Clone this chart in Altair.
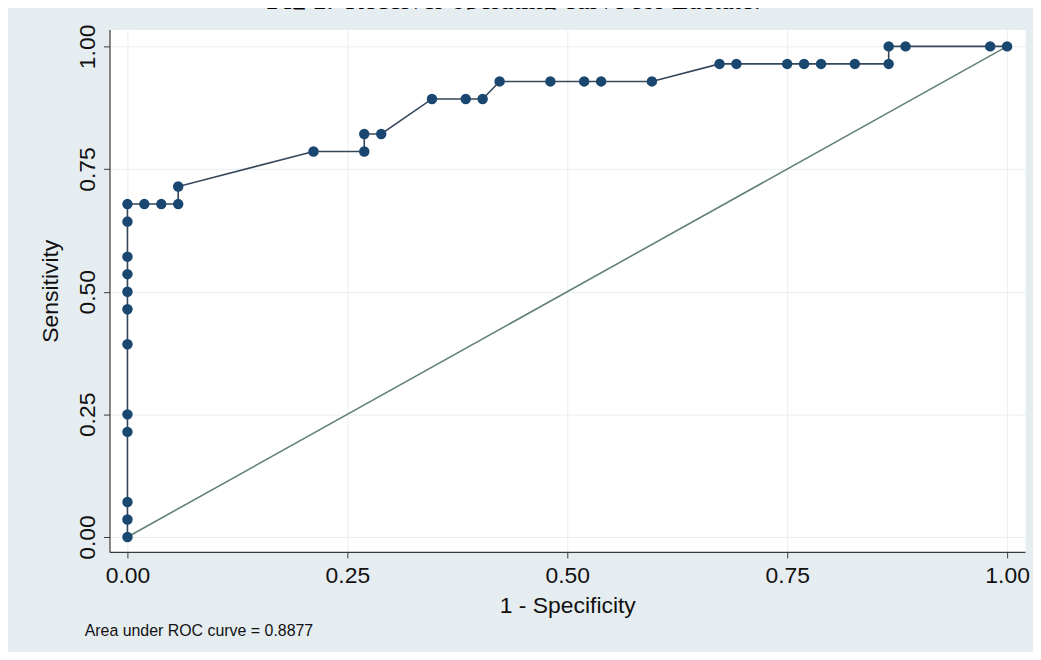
import altair as alt
import pandas as pd

# ROC curve points (1 - specificity, sensitivity)
fpr = [0.0, 0.0, 0.0, 0.0, 0.0, 0.0, 0.0, 0.0, 0.0, 0.0, 0.0, 0.0,
       0.0192, 0.0385, 0.0577, 0.0577, 0.2115, 0.2692, 0.2692, 0.2885,
       0.3462, 0.3846, 0.4038, 0.4231, 0.4808, 0.5192, 0.5385, 0.5962,
       0.6731, 0.6923, 0.7500, 0.7692, 0.7885, 0.8269, 0.8654, 0.8654,
       0.8846, 0.9808, 1.0]
tpr = [0.0, 0.0357, 0.0714, 0.2143, 0.25, 0.3929, 0.4643, 0.5, 0.5357,
       0.5714, 0.6429, 0.6786,
       0.6786, 0.6786, 0.6786, 0.7143, 0.7857, 0.7857, 0.8214, 0.8214,
       0.8929, 0.8929, 0.8929, 0.9286, 0.9286, 0.9286, 0.9286, 0.9286,
       0.9643, 0.9643, 0.9643, 0.9643, 0.9643, 0.9643, 0.9643, 1.0,
       1.0, 1.0, 1.0]
ref_x = [0.0, 1.0]
ref_y = [0.0, 1.0]
tick_vals = [0.0, 0.25, 0.5, 0.75, 1.0]
x_title = "1 - Specificity"
y_title = "Sensitivity"
note_text = ["Area under ROC curve = 0.8877"]
title_bold = ["Fig 1."]
title_rest = ["Receiver operating curve for Lactate."]

W, H = 920, 525
BG = "#e6edf1"
FONT = "Liberation Sans"

roc = pd.DataFrame({"fpr": fpr, "tpr": tpr, "order": list(range(len(fpr)))})
ref = pd.DataFrame({"x": ref_x, "y": ref_y})

xscale = alt.Scale(domain=[-0.0204, 1.0204], nice=False, zero=False)
yscale = alt.Scale(domain=[-0.0304, 1.0345], nice=False, zero=False)

common_axis = dict(
    values=tick_vals, format=".2f", grid=True, gridColor="#e8eef1", gridWidth=1,
    domainColor="#3a3a3a", domainWidth=1.2, tickColor="#3a3a3a", tickSize=6,
    labelFontSize=23, titleFontSize=23, labelFont=FONT, titleFont=FONT,
    labelColor="#111111", titleColor="#111111", titleFontWeight="normal",
    labelOverlap=False, labelFlush=False,
)
xaxis = alt.Axis(title=x_title, labelPadding=7, titlePadding=7, **common_axis)
yaxis = alt.Axis(title=y_title, labelAngle=270, labelAlign="center",
                 labelBaseline="bottom", labelPadding=4, titlePadding=14,
                 **common_axis)

diag = alt.Chart(ref).mark_line(color="#62807a", strokeWidth=1.6).encode(
    x=alt.X("x:Q", scale=xscale, axis=xaxis),
    y=alt.Y("y:Q", scale=yscale, axis=yaxis),
)

curve = alt.Chart(roc).mark_line(color="#34475a", strokeWidth=1.6).encode(
    x=alt.X("fpr:Q", scale=xscale, axis=xaxis),
    y=alt.Y("tpr:Q", scale=yscale, axis=yaxis),
    order="order:Q",
)

pts = alt.Chart(roc).mark_circle(color="#1a476f", size=110, opacity=1).encode(
    x=alt.X("fpr:Q", scale=xscale, axis=xaxis),
    y=alt.Y("tpr:Q", scale=yscale, axis=yaxis),
)

note = alt.Chart(pd.DataFrame({"t": note_text})).mark_text(
    align="left", baseline="middle", fontSize=16, font=FONT, color="#111111"
).encode(text="t:N", x=alt.value(-25), y=alt.value(604))

t1 = alt.Chart(pd.DataFrame({"t": title_bold})).mark_text(
    align="right", baseline="alphabetic", fontSize=28, font="Liberation Serif",
    fontWeight="bold", color="#000000"
).encode(text="t:N", x=alt.value(225), y=alt.value(-21))

t2 = alt.Chart(pd.DataFrame({"t": title_rest})).mark_text(
    align="left", baseline="alphabetic", fontSize=28, font="Liberation Serif",
    color="#000000"
).encode(text="t:N", x=alt.value(237), y=alt.value(-21))

# grey strip over the title's descenders, as in the page the figure comes from
cover = alt.Chart(pd.DataFrame({"k": [0]})).mark_rect(color=BG).encode(
    x=alt.value(-110), x2=alt.value(W + 20), y=alt.value(-20), y2=alt.value(-12)
)

chart = alt.layer(diag, curve, pts, note, t1, t2, cover).properties(
    width=W, height=H,
    padding={"left": 102, "top": 20, "right": 8, "bottom": 99},
    autosize=alt.AutoSizeParams(type="none"),
    background=BG,
).configure_view(fill="white", stroke="transparent")

chart.save("out.html", embed_options={"renderer": "svg", "actions": False})
